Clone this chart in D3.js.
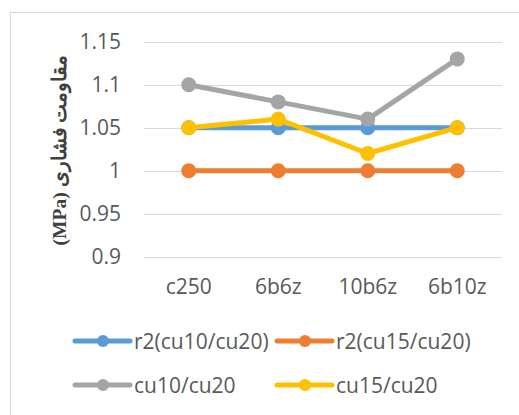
<!DOCTYPE html>
<html>
<head>
<meta charset="utf-8">
<script src="https://cdn.jsdelivr.net/npm/d3@7"></script>
<style>
  html, body { margin: 0; padding: 0; background: #fff; }
  svg { display: block; }
</style>
</head>
<body>
<svg id="chart" width="519" height="415"></svg>
<script>
// Categories, series and axis ticks
const categories = ["c250", "6b6z", "10b6z", "6b10z"];
const seriesNames = ["r2(cu10/cu20)", "r2(cu15/cu20)", "cu10/cu20", "cu15/cu20"];
const seriesColors = ["#5B9BD5", "#ED7D31", "#A5A5A5", "#FFC000"];
const r2cu10 = [1.05, 1.05, 1.05, 1.05];
const r2cu15 = [1.0, 1.0, 1.0, 1.0];
const cu10 = [1.1, 1.08, 1.06, 1.13];
const cu15 = [1.05, 1.06, 1.02, 1.05];
const yTicks = [0.9, 0.95, 1, 1.05, 1.1, 1.15];
const yTitle = "مقاومت فشاری (MPa)";

const seriesValues = [r2cu10, r2cu15, cu10, cu15];

const svg = d3.select("#chart");
const font = "'Open Sans', sans-serif";
const fontSize = 21;

// chart frame
svg.append("rect")
  .attr("x", 10.5).attr("y", 12.5)
  .attr("width", 540).attr("height", 420)
  .attr("fill", "#fff").attr("stroke", "#d9d9d9").attr("stroke-width", 1);

const x = d3.scaleBand().domain(categories).range([144, 502]);
const y = d3.scaleLinear().domain([0.9, 1.15]).range([256.7, 41.7]);

// horizontal gridlines
svg.append("g").selectAll("line").data(yTicks).join("line")
  .attr("x1", 144).attr("x2", 502)
  .attr("y1", d => Math.round(y(d)) + 0.5).attr("y2", d => Math.round(y(d)) + 0.5)
  .attr("stroke", "#d9d9d9").attr("stroke-width", 1);

// y axis tick labels
const yAxis = d3.axisLeft(y).tickValues(yTicks).tickSize(0).tickPadding(23)
  .tickFormat(d => String(+d.toFixed(2)));
const gy = svg.append("g").attr("transform", "translate(144,0)").call(yAxis);
gy.select(".domain").remove();
gy.selectAll("text").attr("font-family", font).attr("font-size", fontSize).attr("fill", "#595959");

// x axis category labels
const xAxis = d3.axisBottom(x).tickSize(0).tickPadding(22);
const gx = svg.append("g").attr("transform", "translate(0,256.7)").call(xAxis);
gx.select(".domain").remove();
gx.selectAll("text").attr("font-family", font).attr("font-size", fontSize).attr("fill", "#595959");

// y axis title
svg.append("text")
  .attr("transform", "translate(62,150) rotate(-90)")
  .attr("text-anchor", "middle")
  .attr("dominant-baseline", "middle")
  .attr("font-family", "'Liberation Serif', 'DejaVu Serif', serif")
  .attr("font-weight", "bold")
  .attr("font-size", 19.5)
  .attr("fill", "#404040")
  .attr("direction", "rtl")
  .text(yTitle);

// series lines and markers
const line = d3.line()
  .x((d, i) => x(categories[i]) + x.bandwidth() / 2)
  .y(d => y(d));

seriesValues.forEach((vals, si) => {
  const g = svg.append("g");
  g.append("path")
    .attr("d", line(vals))
    .attr("fill", "none")
    .attr("stroke", seriesColors[si])
    .attr("stroke-width", 5)
    .attr("stroke-linejoin", "round");
  g.selectAll("circle").data(vals).join("circle")
    .attr("cx", (d, i) => x(categories[i]) + x.bandwidth() / 2)
    .attr("cy", d => y(d))
    .attr("r", 7.5)
    .attr("fill", seriesColors[si]);
});

// legend
const legendPos = [[75, 341], [277, 341], [75, 385], [277, 385]];
seriesNames.forEach((name, i) => {
  const [lx, ly] = legendPos[i];
  const g = svg.append("g").attr("transform", `translate(${lx},${ly})`);
  g.append("line").attr("x1", 0).attr("x2", 55).attr("y1", 0).attr("y2", 0)
    .attr("stroke", seriesColors[i]).attr("stroke-width", 5).attr("stroke-linecap", "round");
  g.append("circle").attr("cx", 28).attr("cy", 0).attr("r", 6).attr("fill", seriesColors[i]);
  g.append("text").attr("x", 59).attr("y", 0)
    .attr("dominant-baseline", "central")
    .attr("font-family", font).attr("font-size", fontSize).attr("fill", "#595959")
    .text(name);
});
</script>
</body>
</html>
